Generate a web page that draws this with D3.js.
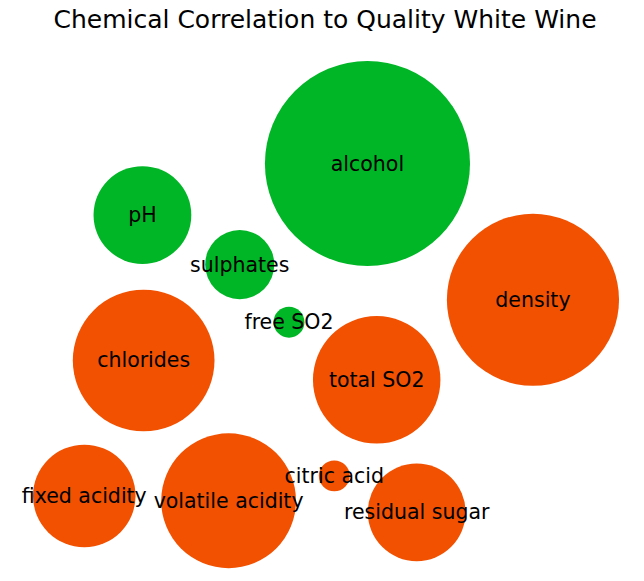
<!DOCTYPE html>
<html><head><meta charset="utf-8">
<script src="https://cdn.jsdelivr.net/npm/d3@7"></script>
<style>body{margin:0;background:#fff}</style></head>
<body><svg id="c" width="644" height="581"></svg>
<script>
const labels = ["fixed acidity","volatile acidity","citric acid","residual sugar","chlorides","free SO2","total SO2","density","pH","sulphates","alcohol"];
const correlations = [-0.11,-0.19,-0.01,-0.10,-0.21,0.01,-0.17,-0.31,0.10,0.05,0.44];
const chartTitle = "Chemical Correlation to Quality White Wine";
const bubbleSpacing = 0.094;
const posColor = "#00b526", negColor = "#f15100";

// Packed-bubble collapse layout (bubble area = |correlation|)
const n = correlations.length;
const B = correlations.map(c => { const a = Math.abs(c); return [1, 1, Math.sqrt(a / Math.PI), a]; });
const maxstep = 2 * d3.max(B, b => b[2]) + bubbleSpacing;
let stepDist = maxstep / 2;
const len = Math.ceil(Math.sqrt(n));
for (let i = 0; i < n; i++) { B[i][0] = (i % len) * maxstep; B[i][1] = Math.floor(i / len) * maxstep; }
function com() {
  let sx = 0, sy = 0, sw = 0;
  B.forEach(b => { sx += b[0] * b[3]; sy += b[1] * b[3]; sw += b[3]; });
  return [sx / sw, sy / sw];
}
function outline(b, o) { return Math.hypot(b[0] - o[0], b[1] - o[1]) - b[2] - o[2] - bubbleSpacing; }
let cm = com();
for (let it = 0; it < 50; it++) {
  let moves = 0;
  for (let i = 0; i < n; i++) {
    const rest = B.filter((_, j) => j !== i);
    let dx = cm[0] - B[i][0], dy = cm[1] - B[i][1];
    let l = Math.sqrt(dx * dx + dy * dy); dx /= l; dy /= l;
    let nb = [B[i][0] + dx * stepDist, B[i][1] + dy * stepDist, B[i][2], B[i][3]];
    const dists = rest.map(o => outline(nb, o));
    if (!dists.some(d => d < 0)) { B[i] = nb; cm = com(); moves++; }
    else {
      const ci = d3.minIndex(dists);
      let vx = rest[ci][0] - B[i][0], vy = rest[ci][1] - B[i][1];
      l = Math.sqrt(vx * vx + vy * vy); vx /= l; vy /= l;
      const ox = vy, oy = -vx;
      const p1 = [B[i][0] + ox * stepDist, B[i][1] + oy * stepDist];
      const p2 = [B[i][0] - ox * stepDist, B[i][1] - oy * stepDist];
      const d1 = Math.hypot(cm[0] - p1[0], cm[1] - p1[1]);
      const d2 = Math.hypot(cm[0] - p2[0], cm[1] - p2[1]);
      const p = d1 < d2 ? p1 : p2;
      nb = [p[0], p[1], B[i][2], B[i][3]];
      if (!rest.some(o => outline(nb, o) < 0)) { B[i] = nb; cm = com(); }
    }
  }
  if (moves / n < 0.1) stepDist /= 2;
}

const xmin = d3.min(B, b => b[0] - b[2]), xmax = d3.max(B, b => b[0] + b[2]);
const ymin = d3.min(B, b => b[1] - b[2]), ymax = d3.max(B, b => b[1] + b[2]);
const k = 274;
const x = d3.scaleLinear().domain([xmin, xmax]).range([33, 33 + (xmax - xmin) * k]);
const y = d3.scaleLinear().domain([ymax, ymin]).range([61, 61 + (ymax - ymin) * k]);

const svg = d3.select("#c");
svg.append("text").attr("x", 325).attr("y", 28).attr("text-anchor", "middle")
  .style("font-family", "DejaVu Sans").style("font-size", "25px").attr("fill", "#000").text(chartTitle);
const g = svg.append("g");
g.selectAll("circle").data(B).join("circle")
  .attr("cx", b => x(b[0])).attr("cy", b => y(b[1])).attr("r", b => b[2] * k)
  .attr("fill", (b, i) => correlations[i] >= 0 ? posColor : negColor);
g.selectAll("text").data(B).join("text")
  .attr("x", b => x(b[0])).attr("y", b => y(b[1])).attr("text-anchor", "middle")
  .attr("dominant-baseline", "central")
  .style("font-family", "DejaVu Sans").style("font-size", "20.5px").attr("fill", "#000")
  .text((b, i) => labels[i]);
</script></body></html>
